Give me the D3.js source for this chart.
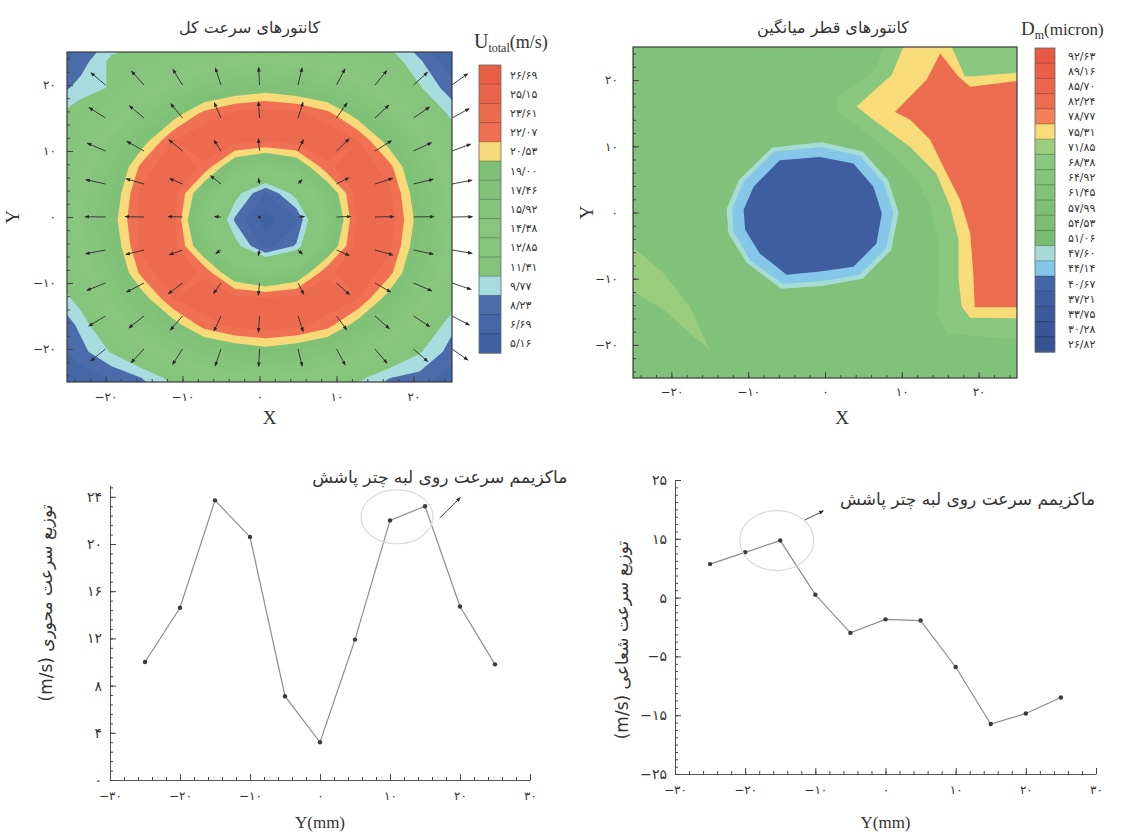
<!DOCTYPE html>
<html>
<head>
<meta charset="utf-8">
<script src="https://cdn.jsdelivr.net/npm/d3@7"></script>
<style>
    body { margin: 0; background: #fff; }
</style>
</head>
<body>
<script>
'use strict';
(function () {

    // ---------- values ----------

    // U_total (m/s) on a 15 x 15 grid, nodes 4 mm apart, first node at (-27.2, -28.4), rows bottom to top
    const uGridX0 = -27.2
    const uGridY0 = -28.4
    const uGridStep = 4
    const uGrid = [
        [5.2, 5.8, 7.1, 8.5, 9.8, 11.0, 11.5, 11.8, 11.5, 11.0, 9.4, 8.5, 7.1, 5.8, 5.2],
        [5.8, 7.4, 8.4, 9.8, 12.0, 14.3, 15.2, 15.5, 15.2, 14.3, 11.8, 9.8, 9.2, 7.4, 5.8],
        [7.1, 9.2, 11.5, 14.0, 16.2, 17.8, 18.9, 19.6, 18.9, 17.8, 16.2, 14.0, 11.5, 9.2, 7.1],
        [7.8, 10.2, 14.0, 16.8, 19.6, 22.7, 24.1, 24.5, 24.1, 22.7, 19.6, 16.8, 14.0, 10.3, 8.5],
        [9.4, 12.2, 16.2, 19.6, 23.6, 25.0, 24.3, 24.0, 24.3, 25.0, 23.6, 19.6, 16.2, 12.9, 9.8],
        [11.0, 14.3, 17.8, 22.7, 25.0, 23.2, 18.5, 16.6, 18.5, 23.2, 25.0, 22.7, 17.8, 14.3, 11.0],
        [11.5, 15.2, 18.9, 24.1, 24.3, 18.5, 12.2, 7.5, 10.0, 18.5, 24.3, 24.1, 18.9, 15.2, 11.5],
        [11.8, 15.5, 19.6, 24.5, 24.0, 16.6, 9.5, 6.0, 8.0, 16.6, 24.0, 24.5, 19.6, 15.5, 11.8],
        [11.5, 15.2, 18.9, 24.1, 24.3, 18.5, 12.2, 8.0, 12.2, 18.5, 24.3, 24.1, 18.9, 15.2, 11.5],
        [11.0, 14.3, 17.8, 22.7, 25.0, 23.2, 18.5, 16.6, 18.5, 23.2, 25.0, 22.7, 17.8, 14.3, 11.0],
        [9.8, 12.9, 16.2, 19.6, 23.6, 25.0, 24.3, 24.0, 24.3, 25.0, 23.6, 19.6, 16.2, 12.9, 9.8],
        [10.9, 12.5, 14.0, 16.8, 19.6, 22.7, 24.1, 24.5, 24.1, 22.7, 19.6, 16.8, 14.0, 11.0, 8.5],
        [8.6, 10.4, 11.5, 14.0, 16.2, 17.8, 18.9, 19.6, 18.9, 17.8, 16.2, 14.0, 11.5, 8.9, 7.1],
        [7.5, 9.0, 11.8, 12.6, 12.9, 14.3, 15.2, 15.5, 15.2, 14.3, 12.9, 12.4, 10.0, 7.4, 5.8],
        [5.8, 7.4, 9.8, 10.6, 10.8, 11.0, 11.5, 11.8, 11.5, 11.0, 9.8, 10.4, 7.8, 5.8, 5.2]
    ]
    const uLevels = [5.16, 6.69, 8.23, 9.77, 11.31, 12.85, 14.38, 15.92, 17.46, 19.00, 20.53, 22.07, 23.61, 25.15, 26.69]
    const uColors = ["#3f62a2", "#4467a7", "#4a6cab", "#a8dde0", "#84c47b", "#86c57c", "#88c67d",
                     "#85c57b", "#82c379", "#7fc177", "#f8da78", "#ef7052", "#ec6a4e", "#e9644a", "#e65e46"]

    // velocity arrows: nodes every 5 mm, pointing away from the spray axis
    const arrowX = [-20, -15, -10, -5, 0, 5, 10, 15, 20, 25]
    const arrowY = [-20, -15, -10, -5, 0, 5, 10, 15, 20]
    const sprayAxis = [0.8, -0.4]
    // in-plane speed (m/s) for each 5 mm ring around the axis
    const ringSpeed = [0, 4, 9, 12, 13, 13, 13, 13]

    // D_m (micron)
    const dmLevels = [26.82, 30.28, 33.75, 37.21, 40.67, 44.14, 47.60, 51.06, 54.53, 57.99,
                      61.45, 64.92, 68.38, 71.85, 75.31, 78.77, 82.24, 85.70, 89.16, 92.63]
    const dmColors = ["#365392", "#395796", "#3c5a9a", "#3f5e9f", "#4466a8", "#84c7e8", "#a6dcd4",
                      "#76bc72", "#79be74", "#7cc076", "#80c279", "#84c47b", "#8ac77e", "#9acc7e",
                      "#f9dc7a", "#f08159", "#ec6c50", "#ea664c", "#e86048", "#e65a45"]
    const dmBackground = 61.45
    // regions of the D_m field, outlines in mm
    const dmRegions = [
        { level: 71.85, pts: [[-25, -5.2], [-21, -9.2], [-17.6, -14.2], [-15, -20.8], [-17.6, -18.2], [-21, -14.7], [-26, -11.2], [-26, -5]] },
        { level: 68.38, pts: [[7.8, 26], [6.5, 21.5], [1.5, 17.3], [1.8, 15], [4.5, 12.8], [8.8, 8.8], [12, 5], [13.8, 0.5],
                              [14.8, -4.5], [14.8, -10.5], [14.5, -15.5], [16, -18.3], [26, -19.3], [26, 26]] },
        { level: 75.31, pts: [[10.2, 26], [10.2, 25], [8.7, 20.8], [4.1, 16.0], [6.3, 14.0], [11.1, 9.9], [14.5, 5.9], [16.3, 0.9],
                              [17.4, -4.2], [17.4, -10.2], [17.8, -14.2], [18.9, -15.9], [26, -16], [26, 21.2], [19.5, 20.6],
                              [18.2, 20.6], [16.5, 25], [16.5, 26]] },
        { level: 82.24, pts: [[15.0, 24.0], [13.2, 20.0], [9.1, 15.2], [11.1, 14.0], [13.7, 11.0], [15.4, 6.9], [17.6, 1.9],
                              [18.9, -3.1], [19.3, -9.2], [19.5, -14.3], [26, -14.3], [26, 20.0], [18.9, 19.0], [17.4, 20.5]] },
        { level: 47.60, pts: [[-6.9, 9.8], [-0.4, 10.6], [4.9, 9.2], [8.2, 4.9], [9.6, 0], [8.6, -5.7], [4.9, -10.0], [-0.4, -11.1],
                              [-5.7, -11.5], [-10.2, -7.6], [-12.6, -3.1], [-12.8, 0.55], [-11.2, 4.9]] },
        { level: 44.14, pts: [[-6.6, 9.2], [-0.5, 9.9], [4.5, 8.6], [7.6, 4.6], [8.9, 0], [8.0, -5.4], [4.5, -9.4], [-0.5, -10.4],
                              [-5.5, -10.8], [-9.7, -7.2], [-11.9, -3.0], [-12.1, 0.5], [-10.6, 4.6]] },
        { level: 37.21, pts: [[-5.9, 7.9], [-0.65, 8.4], [3.7, 7.4], [6.3, 3.9], [7.4, -0.1], [6.7, -4.7], [3.7, -8.2], [-0.65, -8.9],
                              [-5.0, -9.4], [-8.5, -6.2], [-10.4, -2.6], [-10.6, 0.4], [-9.3, 3.9]] }
    ]

    // profiles across the spray (Y in mm, speeds in m/s)
    const posY = [-25, -20, -15, -10, -5, 0, 5, 10, 15, 20, 25]
    const axialSpeed = [10.0, 14.6, 23.7, 20.6, 7.1, 3.2, 11.9, 22.0, 23.2, 14.7, 9.8]
    const radialSpeed = [10.7, 12.7, 14.7, 5.5, -1.0, 1.3, 1.1, -6.8, -16.5, -14.7, -12.0]

    const titleU = "کانتورهای سرعت کل"
    const titleDm = "کانتورهای قطر میانگین"
    const labelAxial = "(m/s) توزیع سرعت محوری"
    const labelRadial = "(m/s) توزیع سرعت شعاعی"
    const noteText = "ماکزیمم سرعت روی لبه چتر پاشش"

    // ---------- drawing ----------

    const faFont = "'DejaVu Sans', sans-serif"
    const serif = "'Liberation Serif', 'DejaVu Serif', serif"
    const ink = "#333"

    function fa(v) {
        const digits = "۰۱۲۳۴۵۶۷۸۹"
        return String(v).replace(/-/g, "−").replace(/\./g, "/").replace(/\d/g, d => digits[d])
    }

    const svg = d3.select("body").append("svg")
        .attr("width", 1125)
        .attr("height", 833)

    const defs = svg.append("defs")
    defs.append("marker").attr("id", "head")
        .attr("viewBox", "0 0 8 8").attr("refX", 6).attr("refY", 4)
        .attr("markerWidth", 5).attr("markerHeight", 5)
        .attr("markerUnits", "userSpaceOnUse").attr("orient", "auto")
        .append("path").attr("d", "M0,1 L8,4 L0,7 Z").attr("fill", "#2a2a2a")

    function styleAxis(g, size) {
        g.attr("font-family", faFont).attr("font-size", size)
        g.selectAll("text").attr("fill", ink)
        g.selectAll("line").attr("stroke", "#444")
        g.select(".domain").attr("stroke", "#555")
    }

    function clipRect(id, x, y) {
        defs.append("clipPath").attr("id", id).append("rect")
            .attr("x", x.range()[0]).attr("y", y.range()[1])
            .attr("width", x.range()[1] - x.range()[0])
            .attr("height", y.range()[0] - y.range()[1])
    }

    function mapAxes(g, x, y, padX, padY) {
        const bottom = y.range()[0]
        const left = x.range()[0]
        g.append("g").attr("transform", "translate(0," + bottom + ")")
            .call(d3.axisBottom(x).tickValues(d3.range(-24, 25, 2)).tickSize(-3).tickFormat(""))
            .call(a => a.select(".domain").remove())
            .call(a => styleAxis(a, 12))
        g.append("g").attr("transform", "translate(0," + bottom + ")")
            .call(d3.axisBottom(x).tickValues([-20, -10, 0, 10, 20]).tickSize(-6).tickPadding(padX).tickFormat(fa))
            .call(a => a.select(".domain").remove())
            .call(a => styleAxis(a, 12))
        g.append("g").attr("transform", "translate(" + left + ",0)")
            .call(d3.axisLeft(y).tickValues(d3.range(-24, 25, 2)).tickSize(-3).tickFormat(""))
            .call(a => a.select(".domain").remove())
            .call(a => styleAxis(a, 12))
        g.append("g").attr("transform", "translate(" + left + ",0)")
            .call(d3.axisLeft(y).tickValues([-20, -10, 0, 10, 20]).tickSize(-6).tickPadding(padY).tickFormat(fa))
            .call(a => a.select(".domain").remove())
            .call(a => styleAxis(a, 12))
        g.append("rect")
            .attr("x", x.range()[0]).attr("y", y.range()[1])
            .attr("width", x.range()[1] - x.range()[0])
            .attr("height", y.range()[0] - y.range()[1])
            .attr("fill", "none").attr("stroke", "#3a3a3a").attr("stroke-width", 1.2)
    }

    function legend(x0, y0, w, h, levels, colors, labelX) {
        const order = levels.slice().reverse()
        const band = d3.scaleBand().domain(order).range([y0, y0 + h])
        const g = svg.append("g")
        g.selectAll("rect.box").data(order).enter().append("rect")
            .attr("class", "box")
            .attr("x", x0).attr("y", d => band(d))
            .attr("width", w).attr("height", band.bandwidth() + 0.5)
            .attr("fill", d => colors[levels.indexOf(d)])
        g.selectAll("line.sep").data(order.slice(1)).enter().append("line")
            .attr("class", "sep")
            .attr("x1", x0).attr("x2", x0 + w)
            .attr("y1", d => band(d)).attr("y2", d => band(d))
            .attr("stroke", "#000").attr("stroke-opacity", 0.25)
        g.append("rect").attr("x", x0).attr("y", y0).attr("width", w).attr("height", h)
            .attr("fill", "none").attr("stroke", "#666").attr("stroke-width", 0.8)
        g.selectAll("text").data(order).enter().append("text")
            .attr("x", labelX).attr("y", d => band(d) + band.bandwidth() / 2 + 4)
            .attr("font-family", faFont).attr("font-size", 11).attr("fill", ink)
            .text(d => fa(d.toFixed(2)))
    }

    function drawUMap() {
        const x = d3.scaleLinear().domain([-25, 25]).range([67, 452])
        const y = d3.scaleLinear().domain([-25, 25]).range([382, 52])
        clipRect("clipU", x, y)
        const g = svg.append("g")

        const contours = d3.contours()
            .size([uGrid[0].length, uGrid.length])
            .thresholds(uLevels)(uGrid.flat())
        const proj = d3.geoTransform({
            point: function (px, py) {
                this.stream.point(x(uGridX0 + (px - 0.5) * uGridStep), y(uGridY0 + (py - 0.5) * uGridStep))
            }
        })
        const path = d3.geoPath(proj)
        g.append("g").attr("clip-path", "url(#clipU)")
            .selectAll("path").data(contours).enter().append("path")
            .attr("d", path)
            .attr("fill", d => uColors[uLevels.indexOf(d.value)])

        const field = []
        arrowY.forEach(ay => arrowX.forEach(ax => {
            const dx = ax - sprayAxis[0]
            const dy = ay - sprayAxis[1]
            const r = Math.hypot(dx, dy)
            const s = ringSpeed[Math.min(ringSpeed.length - 1, Math.round(r / 5))]
            field.push({ x: ax, y: ay, u: s * dx / r, v: s * dy / r, s: s })
        }))
        const k = 0.2 // mm of arrow per m/s
        g.selectAll("line.vec").data(field.filter(d => d.s > 0)).enter().append("line")
            .attr("class", "vec")
            .attr("x1", d => x(d.x)).attr("y1", d => y(d.y))
            .attr("x2", d => x(d.x + d.u * k)).attr("y2", d => y(d.y + d.v * k))
            .attr("stroke", "#2d2d2d").attr("stroke-width", 0.9)
            .attr("marker-end", "url(#head)")
        g.selectAll("circle.vec").data(field.filter(d => d.s === 0)).enter().append("circle")
            .attr("cx", d => x(d.x)).attr("cy", d => y(d.y)).attr("r", 1.6).attr("fill", "#2d2d2d")

        mapAxes(g, x, y, 10, 11)

        svg.append("text").attr("x", (x.range()[0] + x.range()[1]) / 2 - 10).attr("y", 33)
            .attr("text-anchor", "middle").attr("font-family", faFont).attr("font-size", 16).attr("fill", ink)
            .text(titleU)
        svg.append("text").attr("x", x(0) + 10).attr("y", 424)
            .attr("text-anchor", "middle").attr("font-family", serif).attr("font-size", 19).attr("fill", ink)
            .text("X")
        svg.append("text").attr("transform", "translate(19," + y(0) + ") rotate(-90)")
            .attr("text-anchor", "middle").attr("font-family", serif).attr("font-size", 19).attr("fill", ink)
            .text("Y")

        const t = svg.append("text").attr("x", 474).attr("y", 48).attr("font-family", serif).attr("fill", ink)
        t.append("tspan").attr("font-size", 20).text("U")
        t.append("tspan").attr("font-size", 12).attr("dy", 4).text("total")
        t.append("tspan").attr("font-size", 18).attr("dy", -4).text("(m/s)")
        legend(479, 65, 22, 288, uLevels, uColors, 510)
    }

    function drawDmMap() {
        const x = d3.scaleLinear().domain([-25, 25]).range([633, 1017])
        const y = d3.scaleLinear().domain([-25, 25]).range([378, 47])
        clipRect("clipD", x, y)
        const g = svg.append("g")
        const layer = g.append("g").attr("clip-path", "url(#clipD)")
        layer.append("rect")
            .attr("x", x(-25)).attr("y", y(25))
            .attr("width", x(25) - x(-25)).attr("height", y(-25) - y(25))
            .attr("fill", dmColors[dmLevels.indexOf(dmBackground)])
        const outline = d3.line().x(d => x(d[0])).y(d => y(d[1])).curve(d3.curveLinearClosed)
        layer.selectAll("path").data(dmRegions).enter().append("path")
            .attr("d", d => outline(d.pts))
            .attr("fill", d => dmColors[dmLevels.indexOf(d.level)])

        mapAxes(g, x, y, 9, 15)

        svg.append("text").attr("x", (x.range()[0] + x.range()[1]) / 2 + 8).attr("y", 33)
            .attr("text-anchor", "middle").attr("font-family", faFont).attr("font-size", 16).attr("fill", ink)
            .text(titleDm)
        svg.append("text").attr("x", x(0) + 17).attr("y", 424)
            .attr("text-anchor", "middle").attr("font-family", serif).attr("font-size", 19).attr("fill", ink)
            .text("X")
        svg.append("text").attr("transform", "translate(593," + y(0) + ") rotate(-90)")
            .attr("text-anchor", "middle").attr("font-family", serif).attr("font-size", 19).attr("fill", ink)
            .text("Y")

        const t = svg.append("text").attr("x", 1021).attr("y", 35).attr("font-family", serif).attr("fill", ink)
        t.append("tspan").attr("font-size", 19).text("D")
        t.append("tspan").attr("font-size", 12).attr("dy", 4).text("m")
        t.append("tspan").attr("font-size", 17).attr("dy", -4).text("(micron)")
        legend(1035, 48, 20, 304, dmLevels, dmColors, 1068)
    }

    function linePlot(x, y, values, opt) {
        const g = svg.append("g")
        const x0 = x.range()[0]
        const yb = y.range()[0]
        g.append("g").attr("transform", "translate(0," + yb + ")")
            .call(d3.axisBottom(x).tickValues(d3.range(-30, 31, 2)).tickSize(-3).tickSizeOuter(0).tickFormat(""))
            .call(a => styleAxis(a, 12))
        g.append("g").attr("transform", "translate(0," + yb + ")")
            .call(d3.axisBottom(x).tickValues(d3.range(-30, 31, 10)).tickSize(-6).tickSizeOuter(0).tickPadding(11).tickFormat(fa))
            .call(a => styleAxis(a, 12))
            .call(a => a.select(".domain").remove())
        g.append("g").attr("transform", "translate(" + x0 + ",0)")
            .call(d3.axisLeft(y).tickValues(opt.minor).tickSize(-3).tickSizeOuter(0).tickFormat(""))
            .call(a => styleAxis(a, 12))
        g.append("g").attr("transform", "translate(" + x0 + ",0)")
            .call(d3.axisLeft(y).tickValues(opt.major).tickSize(-6).tickSizeOuter(0).tickPadding(8).tickFormat(fa))
            .call(a => styleAxis(a, 14))
            .call(a => a.select(".domain").remove())

        const line = d3.line().x((d, i) => x(posY[i])).y(d => y(d))
        g.append("path").datum(values)
            .attr("d", line).attr("fill", "none").attr("stroke", "#8d8d8d").attr("stroke-width", 1.2)
        g.selectAll("circle").data(values).enter().append("circle")
            .attr("cx", (d, i) => x(posY[i])).attr("cy", d => y(d)).attr("r", 2.2).attr("fill", "#3a3a3a")

        g.append("ellipse")
            .attr("cx", x(opt.ring[0])).attr("cy", y(opt.ring[1]))
            .attr("rx", opt.ring[2]).attr("ry", opt.ring[3])
            .attr("fill", "none").attr("stroke", "#dcdcdc").attr("stroke-width", 1.3)
        g.append("line")
            .attr("x1", x(opt.arrow[0])).attr("y1", y(opt.arrow[1]))
            .attr("x2", x(opt.arrow[2])).attr("y2", y(opt.arrow[3]))
            .attr("stroke", "#444").attr("stroke-width", 1).attr("marker-end", "url(#head)")
        g.append("text").attr("x", x(opt.note[0])).attr("y", y(opt.note[1]))
            .attr("text-anchor", "middle").attr("font-family", faFont).attr("font-size", 17).attr("fill", ink)
            .text(noteText)

        g.append("text").attr("transform", "translate(" + opt.labelPos[0] + "," + opt.labelPos[1] + ") rotate(-90)")
            .attr("text-anchor", "middle").attr("font-family", faFont).attr("font-size", 17).attr("fill", ink)
            .text(opt.label)
        g.append("text").attr("x", x(0)).attr("y", 828)
            .attr("text-anchor", "middle").attr("font-family", serif).attr("font-size", 17).attr("fill", ink)
            .text("Y(mm)")
    }

    drawUMap()
    drawDmMap()

    linePlot(
        d3.scaleLinear().domain([-30, 30]).range([110, 530]),
        d3.scaleLinear().domain([0, 25]).range([780, 485]),
        axialSpeed,
        {
            major: d3.range(0, 25, 4),
            minor: d3.range(0, 25, 0.8),
            ring: [11, 22.3, 36, 27],
            arrow: [17.1, 22.2, 20, 23.9],
            note: [17.1, 25.2],
            label: labelAxial,
            labelPos: [52, 603]
        })

    linePlot(
        d3.scaleLinear().domain([-30, 30]).range([675, 1096]),
        d3.scaleLinear().domain([-25, 25]).range([774, 480]),
        radialSpeed,
        {
            major: [-25, -15, -5, 5, 15, 25],
            minor: d3.range(-25, 25.1, 1.25),
            ring: [-15.5, 14.7, 37, 30],
            arrow: [-11.5, 18.2, -8.9, 19.7],
            note: [11.7, 20.7],
            label: labelRadial,
            labelPos: [628, 640]
        })

})()
</script>
</body>
</html>
